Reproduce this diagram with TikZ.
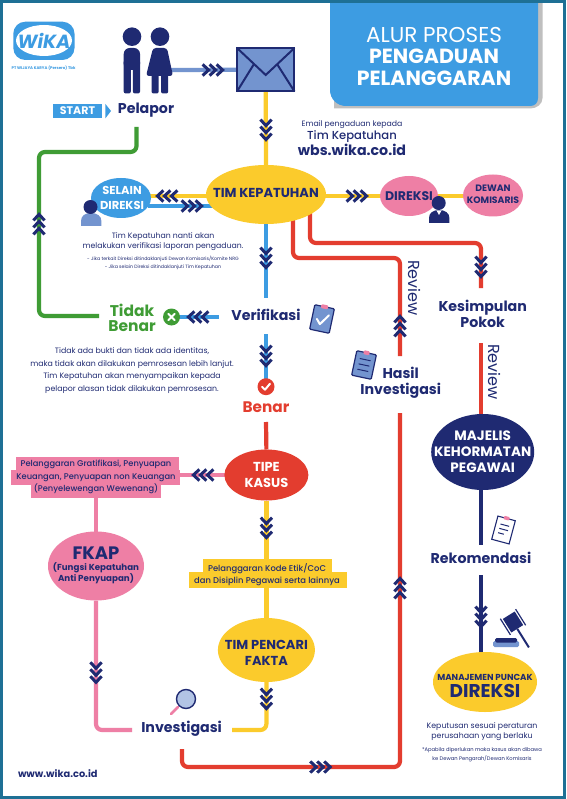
\documentclass[tikz,border=0pt]{standalone}
\usepackage{fontspec}
\setmainfont{Poppins}
\newfontfamily\medf{Poppins Medium}
\usetikzlibrary{shapes.geometric,backgrounds}
\definecolor{navy}{HTML}{1F2A72}
\definecolor{ycol}{HTML}{FBCB2C}
\definecolor{rcol}{HTML}{E33D2F}
\definecolor{pcol}{HTML}{EE7FA5}
\definecolor{bcol}{HTML}{3D9CE2}
\definecolor{gcol}{HTML}{3F9C35}
\definecolor{lblue}{HTML}{7394CF}
\definecolor{frameblue}{HTML}{1E7095}
\newcommand{\fs}[2]{\fontsize{#1}{#2}\selectfont}
\tikzset{
  x=1pt,y=-1pt,
  every node/.style={inner sep=0pt,outer sep=0pt,align=center,text=navy},
  conn/.style={line width=4.2pt,line cap=butt,line join=round,rounded corners=6pt},
  lab/.style={font=\bfseries\fs{14.2}{16}},
  chevs/.pic={
    \foreach \d in {-7,0,7}{
      \draw[navy,line width=3pt,miter limit=10] (\d-3.4,-5.6)--(\d+2.6,0)--(\d-3.4,5.6);
    }
  }
}
\begin{document}
\begin{tikzpicture}
\useasboundingbox (0,0) rectangle (566,799);
% title panel
\fill[black!25] (334,3) -- (334,108.5) -- (530,108.5) .. controls (537,108.5) and (542.5,104) .. (542.5,98) -- (542.5,3) -- cycle;
\fill[bcol] (330,3) -- (330,90) .. controls (330,99) and (337,106) .. (346,106) -- (530,106) .. controls (535,106) and (538,103) .. (538,98) -- (538,3) -- cycle;
\node[text=white,font=\fs{21.5}{22}] (t1) at (434,35) {ALUR PROSES};
\node[text=white,font=\bfseries\fs{20.5}{22}] (t2) at (434,56.5) {PENGADUAN};
\node[text=white,font=\bfseries\fs{20.5}{22}] (t3) at (434,78.5) {PELANGGARAN};
% logo
\fill[bcol,rounded corners=12pt] (13.3,21.7) rectangle (74.5,60);
\fill[white] (44,40.5) ellipse[x radius=28,y radius=15.5];
\node[text=bcol,font=\bfseries\itshape\fs{19}{18}] (wika) at (44,40.5) {WiKA};
\node[text=bcol,font=\bfseries\fs{3.9}{4}] (pt) at (43.5,68) {PT WIJAYA KARYA (Persero) Tbk};
% main nodes
\node[draw=navy,line width=2pt,fill=lblue,minimum width=57pt,minimum height=43pt] (mail) at (265.7,69.8) {};
\node[fill=bcol,text=white,font=\bfseries\fs{11}{10},minimum width=49pt,minimum height=14.3pt] (start) at (77.5,111) {START};
\node[lab] (pelapor) at (146,110) {Pelapor};
\node[ellipse,fill=ycol,minimum width=120pt,minimum height=59pt] (tim) at (266,194.5) {};
\node[font=\bfseries\fs{13}{14}] (timt) at (266,193) {TIM KEPATUHAN};
\node[ellipse,fill=bcol,minimum width=60pt,minimum height=40pt] (selain) at (121,198) {};
\node[text=white,font=\bfseries\fs{11.5}{15}] (selaint) at (122,198) {SELAIN\\DIREKSI};
\node[ellipse,fill=pcol,minimum width=58pt,minimum height=40pt] (direksi) at (409,196) {};
\node[font=\bfseries\fs{12.5}{12}] (direksit) at (409,196) {DIREKSI};
\node[ellipse,fill=pcol,minimum width=60pt,minimum height=42pt] (dewan) at (493,195.5) {};
\node[font=\bfseries\fs{9.3}{11.5}] (dewant) at (493,194.5) {DEWAN\\KOMISARIS};
\node[font=\fs{7.75}{10}] (email) at (352,124.5) {Email pengaduan kepada};
\node[font=\medf\fs{11.6}{13}] (emailb) at (352,137) {Tim Kepatuhan};
\node[font=\bfseries\fs{14.2}{15}] (wbs) at (352,150) {wbs.wika.co.id};
\node[font=\fs{7.75}{9.4}] (note1) at (163,241.5) {Tim Kepatuhan nanti akan\\melakukan verifikasi laporan pengaduan.};
\node[font=\fs{4.7}{8.2}] (note2) at (163,263) {- Jika terkait Direksi ditindaklanjuti Dewan Komisaris/Komite NRG\\- Jika selain Direksi ditindaklanjuti Tim Kepatuhan};
\node[lab] (verif) at (266,315) {Verifikasi};
\node[text=gcol,font=\bfseries\fs{15.5}{15}] (tidak) at (132,317.5) {Tidak\\Benar};
\node[circle,fill=gcol,minimum size=17pt] (xc) at (171.5,317) {};
\node[font=\fs{7.8}{12.6}] (para) at (132,370.5) {Tidak ada bukti dan tidak ada identitas,\\maka tidak akan dilakukan pemrosesan lebih lanjut.\\Tim Kepatuhan akan menyampaikan kepada\\pelapor alasan tidak dilakukan pemrosesan.};
\node[circle,fill=rcol,minimum size=17pt] (okc) at (266,386.7) {};
\node[text=rcol,font=\bfseries\fs{15.3}{16}] (benar) at (266,407.5) {Benar};
\node[ellipse,fill=rcol,minimum width=84pt,minimum height=51pt] (tipe) at (266.4,475) {};
\node[text=white,font=\bfseries\fs{13}{16}] (tipet) at (266.4,475) {TIPE\\KASUS};
\fill[pcol] (15.5,457.3) rectangle (179,471);
\fill[pcol] (11,470) rectangle (179.5,484.5);
\fill[pcol] (31,484) rectangle (161,498);
\node[font=\medf\fs{8.3}{12.8}] (pink) at (96,477) {Pelanggaran Gratifikasi, Penyuapan\\Keuangan, Penyuapan non Keuangan\\(Penyelewengan Wewenang)};
\coordinate (pinkr) at (179.5,475);
\coordinate (pinkb) at (96,498);
\node[ellipse,fill=pcol,minimum width=96pt,minimum height=69pt] (fkap) at (96,566) {};
\node[font=\bfseries\fs{18}{20}] (fk) at (96,553) {FKAP};
\node[font=\bfseries\fs{8.7}{11.6}] (fks) at (96,573) {(Fungsi Kepatuhan\\Anti Penyuapan)};
\fill[ycol] (203,559.3) rectangle (332,572.5);
\fill[ycol] (189,571.7) rectangle (346.6,587.7);
\node[font=\medf\fs{8.4}{12.4}] (ybox) at (267,574.5) {Pelanggaran Kode Etik/CoC\\dan Disiplin Pegawai serta lainnya};
\coordinate (yboxt) at (266.4,559.3);
\coordinate (yboxb) at (266.4,587.7);
\node[ellipse,fill=ycol,minimum width=97pt,minimum height=64pt] (pencari) at (266.4,650) {};
\node[font=\bfseries\fs{13}{16}] (pencarit) at (266.4,653) {TIM PENCARI\\FAKTA};
\node[lab] (inv) at (181.6,728.3) {Investigasi};
\node[lab] (hasil) at (400.7,383) {Hasil\\Investigasi};
\node[lab] (kes) at (482.7,314) {Kesimpulan\\Pokok};
\node[rotate=-90,font=\fs{16}{17}] (rev1) at (414.5,288) {Review};
\node[rotate=-90,font=\fs{16}{17}] (rev2) at (495,372) {Review};
\node[ellipse,fill=navy,minimum width=103pt,minimum height=76pt] (majelis) at (482.7,452) {};
\node[text=white,font=\bfseries\fs{13.6}{16}] (majelist) at (482.7,452) {MAJELIS\\KEHORMATAN\\PEGAWAI};
\node[lab] (rek) at (481,558) {Rekomendasi};
\node[ellipse,fill=ycol,minimum width=104pt,minimum height=60pt] (manaj) at (485,682) {};
\node[font=\bfseries\fs{8.7}{10}] (man1) at (485,677) {MANAJEMEN PUNCAK};
\node[font=\bfseries\fs{18.5}{19}] (man2) at (485,691) {DIREKSI};
\node[font=\fs{7.8}{10}] (kep) at (482,732) {Keputusan sesuai peraturan\\perusahaan yang berlaku};
\node[font=\fs{5.2}{8.7}] (apa) at (482,754.5) {*Apabila diperlukan maka kasus akan dibawa\\ke Dewan Pengarah/Dewan Komisaris};
\node[font=\bfseries\fs{9.8}{11},anchor=west] (www) at (18,773.5) {www.wika.co.id};
% connector end points
\coordinate (man) at (165,70);
\coordinate (g1) at (136.5,127);
\coordinate (g2) at (99,316);
\coordinate (sy) at (150,196);
\coordinate (sb) at (148,206);
\coordinate (tb) at (214,206);
\coordinate (xr) at (219,317);
\coordinate (vt) at (266,298);
\coordinate (vb) at (266,334);
\coordinate (bt) at (266,422);
\coordinate (r1a) at (293,218);
\coordinate (r1b) at (400,356);
\coordinate (r2a) at (310,212);
\coordinate (r2b) at (481,288);
\coordinate (r3a) at (182,749);
\coordinate (r3b) at (400,413);
\coordinate (kb) at (481,343);
\coordinate (majt) at (481,418);
\coordinate (majb) at (481,488);
\coordinate (n1) at (481,545);
\coordinate (n2) at (481,575);
\coordinate (mant) at (481,656);
\coordinate (p1) at (132,730);
\coordinate (y1) at (232,730);
\begin{scope}[on background layer]
\fill[white] (0,0) rectangle (566,799);
\draw[conn,lblue] (man) -- (mail.west);
\draw[conn,ycol] (mail.south) -- (tim.north);
\draw[conn,gcol] (g1) -- (136.5,152) -- (39,152) -- (39,316) -- (g2);
\draw[conn,ycol] (sy) -- (tim.center |- sy);
\draw[conn,bcol] (sb) -- (tb);
\draw[conn,ycol] (tim.center |- direksi) -- (dewan.center |- direksi);
\draw[conn,bcol] (tim.south) -- (vt);
\draw[conn,bcol] (xc.center) -- (xr);
\draw[conn,bcol] (vb) -- (okc.center);
\draw[conn,rcol] (bt) -- (tipe.north);
\draw[conn,pcol] (pinkr) -- (tipe.center);
\draw[conn,pcol] (pinkb) -- (fkap.north);
\draw[conn,pcol] (fkap.south) -- (96,730) -- (p1);
\draw[conn,ycol] (tipe.south) -- (yboxt);
\draw[conn,ycol] (yboxb) -- (pencari.north);
\draw[conn,ycol] (pencari.south) -- (266.4,730) -- (y1);
\draw[conn,rcol] (r1a) -- (293,258) -- (400,258) -- (r1b);
\draw[conn,rcol] (r2a) -- (310,243) -- (481,243) -- (r2b);
\draw[conn,rcol] (r3a) -- (182,767) -- (400,767) -- (r3b);
\draw[conn,rcol] (kb) -- (majt);
\draw[conn,navy] (majb) -- (n1);
\draw[conn,navy] (n2) -- (mant);
\end{scope}
% chevrons
\pic[rotate=0] at (213,70) {chevs};
\pic[rotate=-90] at (266,130) {chevs};
\pic[rotate=90] at (39,224) {chevs};
\pic[rotate=180] at (167,196) {chevs};
\pic[rotate=0] at (192,206) {chevs};
\pic[rotate=0] at (357,196) {chevs};
\pic[rotate=-90] at (266,258) {chevs};
\pic[rotate=-90] at (481,267) {chevs};
\pic[rotate=90] at (400,326) {chevs};
\pic[rotate=180] at (198,317) {chevs};
\pic[rotate=-90] at (266,356) {chevs};
\pic[rotate=180] at (203,475) {chevs};
\pic[rotate=-90] at (266.4,528) {chevs};
\pic[rotate=-90] at (96,672.7) {chevs};
\pic[rotate=-90] at (266.4,699) {chevs};
\pic[rotate=90] at (400,588) {chevs};
\pic[rotate=0] at (320.6,767) {chevs};
\pic[rotate=-90] at (481,617) {chevs};
% start arrow
\fill[bcol] (105.4,104) -- (111,111) -- (105.4,118.3) -- cycle;
% envelope flap
\draw[navy,line width=2pt] (237,48) -- (265.7,75) -- (294.5,48);
\draw[navy,line width=2pt] (237,91.5) -- (254,64);
\draw[navy,line width=2pt] (294.5,91.5) -- (277,64);
% reporters
\fill[navy] (132,36.7) circle[radius=9.3];
\fill[navy,rounded corners=6pt] (123.7,48) rectangle (140,70);
\fill[navy,rounded corners=2pt] (123.7,60) rectangle (130.8,93.5);
\fill[navy,rounded corners=2pt] (132.9,60) rectangle (140,93.5);
\fill[navy] (160,36.7) circle[radius=9.3];
\fill[navy,rounded corners=3pt] (153,48) -- (167,48) -- (173,76) -- (146,76) -- cycle;
\fill[navy,rounded corners=2pt] (151.5,70) rectangle (158.7,93.5);
\fill[navy,rounded corners=2pt] (161,70) rectangle (168.2,93.5);
% person near Selain
\fill[lblue] (81,226) -- (81,221) .. controls (81,216) and (85,213) .. (91,213) .. controls (97,213) and (101.4,216) .. (101.4,221) -- (101.4,226) -- cycle;
\fill[navy] (90.5,207) circle[radius=7];
% person near Direksi
\fill[navy] (429,223) -- (429,218) .. controls (429,213) and (433,210) .. (439,210) .. controls (445,210) and (449.4,213) .. (449.4,218) -- (449.4,223) -- cycle;
\fill[white] (436.5,210.5) -- (441.5,210.5) -- (439,215) -- cycle;
\fill[navy] (438.7,203) circle[radius=7];
% cross
\draw[white,line width=2pt,line cap=round] (xc.center) ++(-3.2,-3.2) -- ++(6.4,6.4) ++(-6.4,0) -- ++(6.4,-6.4);
% tick
\draw[white,line width=2pt,line cap=round,line join=round] (okc.center) ++(-3.8,0.2) -- ++(2.8,2.8) -- ++(5,-6);
% clipboard
\begin{scope}[shift={(322,319)},rotate=-12]
\draw[navy,line width=1.2pt,fill=lblue,rounded corners=1pt] (-10,-12.5) rectangle (10,12.5);
\fill[pcol,rounded corners=1pt] (-3.5,-14.5) rectangle (3.5,-10.5);
\draw[white,line width=2pt,line cap=round,line join=round] (-5,1) -- (-1,5.5) -- (6,-5);
\end{scope}
% report
\begin{scope}[shift={(364,365)},rotate=-12]
\draw[navy,line width=1.2pt,fill=lblue,rounded corners=1pt] (-10,-12.5) rectangle (10,12.5);
\fill[pcol,rounded corners=1pt] (-3,-14.5) rectangle (3,-10.5);
\draw[navy,line width=1pt] (-5.5,-5.5) -- (5.5,-5.5) (-5.5,0) -- (5.5,0) (-5.5,5.5) -- (5.5,5.5);
\end{scope}
% recommendation sheet
\begin{scope}[shift={(503.5,530)},rotate=-15]
\draw[navy,line width=1.1pt,fill=white] (-9,-12) rectangle (9,12);
\fill[pcol,rounded corners=1pt] (-3,-14) rectangle (3,-10.5);
\draw[navy,line width=1pt] (-4.5,-5) -- (4.5,-5) (-4.5,-.5) -- (4.5,-.5) (-4.5,4) -- (1.5,4);
\end{scope}
% gavel
\begin{scope}[shift={(513,622)},rotate=32]
\fill[navy] (-7,-8) rectangle (7,8);
\draw[navy,line width=1.2pt] (-9,-9.5) -- (-9,9.5) (9,-9.5) -- (9,9.5);
\draw[navy,line width=2pt] (0,8) -- (0,30);
\end{scope}
\fill[lblue,rounded corners=1.5pt] (493,641) rectangle (519,647);
\fill[navy,rounded corners=1.5pt] (495,638) rectangle (517,642.5);
% magnifier
\draw[pcol,line width=2.8pt,line cap=round] (178,707) -- (171,714);
\draw[navy,line width=1.4pt,fill=lblue!55] (186,699) circle[radius=9.5];
% frame
\draw[frameblue,line width=3pt] (1.5,1.5) rectangle (564.5,797.5);
\end{tikzpicture}
\end{document}
